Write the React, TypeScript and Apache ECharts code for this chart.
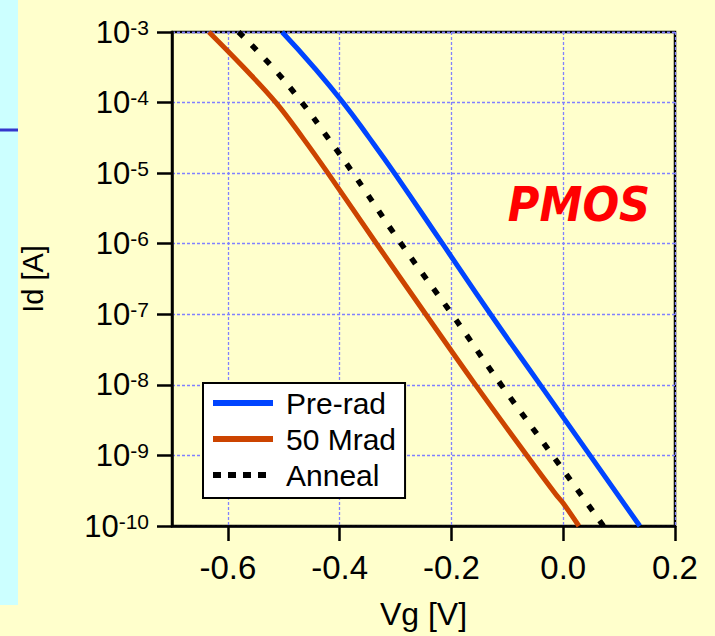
import React, { useEffect, useRef } from "react";
import * as echarts from "echarts";

// Current levels (A) at which Vg was read
const preRadId = [1e-3, 3.16e-4, 1e-4, 3.16e-5, 1e-5, 1e-6, 1e-7, 1e-8, 1e-9, 1e-10];
const preRadVg = [-0.503, -0.446, -0.394, -0.347, -0.302, -0.216, -0.13, -0.041, 0.048, 0.137];

const mrad50Id = [1e-3, 3.16e-4, 1e-4, 3.16e-5, 1e-5, 1e-6, 1e-7, 1e-8, 1e-9, 2.8e-10, 2.1e-10, 1e-10];
const mrad50Vg = [-0.634, -0.572, -0.514, -0.466, -0.421, -0.334, -0.246, -0.157, -0.065, -0.013, 0.0, 0.028];

const annealId = [1e-3, 3.16e-4, 1e-4, 3.16e-5, 1e-5, 1e-6, 1e-7, 1e-8, 1e-9, 1e-10];
const annealVg = [-0.581, -0.52, -0.4675, -0.421, -0.376, -0.29, -0.199, -0.111, -0.019, 0.072];

const xTickValues = [-0.6, -0.4, -0.2, 0.0, 0.2];
const seriesNames = ["Pre-rad", "50 Mrad", "Anneal"];

const zip = (xs: number[], ys: number[]) => xs.map((x, i) => [x, ys[i]]);

export default function App() {
  const ref = useRef<HTMLDivElement>(null);
  useEffect(() => {
    if (!ref.current) return;
    const chart = echarts.init(ref.current, undefined, { renderer: "svg" });
    const gridLine = { show: true, lineStyle: { color: "#8080ff", width: 1.3, type: [3, 2] as any } };
    chart.setOption({
      animation: false,
      backgroundColor: "#FFFFCC",
      textStyle: { fontFamily: "Arial" },
      graphic: [
        { type: "rect", shape: { x: 0, y: 0, width: 18, height: 605 }, style: { fill: "#CCFFFF" }, z: -10 },
        { type: "line", shape: { x1: 0, y1: 130, x2: 18, y2: 130 }, style: { stroke: "#3535CC", lineWidth: 3 } },
        {
          type: "text",
          x: 579,
          y: 204,
          style: {
            text: "PMOS",
            fill: "#FF0000",
            font: 'italic bold 48px "DejaVu Sans Condensed"',
            textAlign: "center",
            textVerticalAlign: "middle",
          },
          z: 10,
        },
      ],
      grid: {
        left: 172,
        top: 32,
        right: 40,
        bottom: 110,
        show: true,
        borderColor: "#000",
        borderWidth: 2.5,
        backgroundColor: "transparent",
      },
      legend: {
        left: 203,
        top: 383,
        orient: "vertical",
        backgroundColor: "#fff",
        borderColor: "#000",
        borderWidth: 2,
        padding: [5, 9, 8, 7],
        itemWidth: 60,
        itemHeight: 6,
        itemGap: 6,
        itemStyle: { opacity: 0 },
        lineStyle: { width: 6 },
        textStyle: { fontSize: 30, fontFamily: "Arial", color: "#000", lineHeight: 30, padding: [0, 0, 0, 8] },
        data: [
          { name: seriesNames[0] },
          { name: seriesNames[1] },
          { name: seriesNames[2], lineStyle: { type: [8, 7], width: 6 } },
        ],
      },
      xAxis: {
        type: "value",
        min: -0.7,
        max: 0.2,
        interval: 0.2,
        name: "Vg [V]",
        nameLocation: "middle",
        nameGap: 72,
        nameTextStyle: { fontSize: 32, color: "#000", fontFamily: "Arial" },
        axisLine: { onZero: false, lineStyle: { color: "#000", width: 2.5 } },
        axisTick: { show: true, length: 15, lineStyle: { color: "#000", width: 2.5 }, customValues: xTickValues },
        axisLabel: {
          fontSize: 33,
          color: "#000",
          margin: 25,
          customValues: xTickValues,
          formatter: (v: number) => v.toFixed(1),
        },
        splitLine: gridLine,
      },
      yAxis: {
        type: "log",
        logBase: 10,
        min: 1e-10,
        max: 1e-3,
        name: "Id [A]",
        nameLocation: "middle",
        nameGap: 125,
        nameRotate: 90,
        nameTextStyle: { fontSize: 29, color: "#000", fontFamily: "Arial" },
        axisLine: { onZero: false, lineStyle: { color: "#000", width: 2.5 } },
        axisTick: { show: true, length: 15, lineStyle: { color: "#000", width: 2.5 } },
        axisLabel: {
          margin: 23,
          color: "#000",
          formatter: (v: number) => `{b|10}{s|${Math.round(Math.log10(v))}}`,
          rich: {
            b: { fontSize: 31, lineHeight: 31, color: "#000", fontFamily: "Arial" },
            s: { fontSize: 21, lineHeight: 10, color: "#000", fontFamily: "Arial", verticalAlign: "top" },
          },
        },
        splitLine: gridLine,
      },
      series: [
        {
          name: seriesNames[0],
          type: "line",
          data: zip(preRadVg, preRadId),
          showSymbol: false,
          symbol: "none",
          smooth: 0.5,
          lineStyle: { color: "#0044FF", width: 5 },
          itemStyle: { color: "#0044FF" },
        },
        {
          name: seriesNames[1],
          type: "line",
          data: zip(mrad50Vg, mrad50Id),
          showSymbol: false,
          symbol: "none",
          smooth: 0.4,
          lineStyle: { color: "#CC4400", width: 5 },
          itemStyle: { color: "#CC4400" },
        },
        {
          name: seriesNames[2],
          type: "line",
          data: zip(annealVg, annealId),
          showSymbol: false,
          symbol: "none",
          smooth: 0.5,
          lineStyle: { color: "#000", width: 5.5, type: [7, 12] as any },
          itemStyle: { color: "#000" },
        },
      ],
    });
    return () => chart.dispose();
  }, []);
  return <div ref={ref} style={{ position: "fixed", left: 0, top: 0, width: 715, height: 636 }} />;
}
